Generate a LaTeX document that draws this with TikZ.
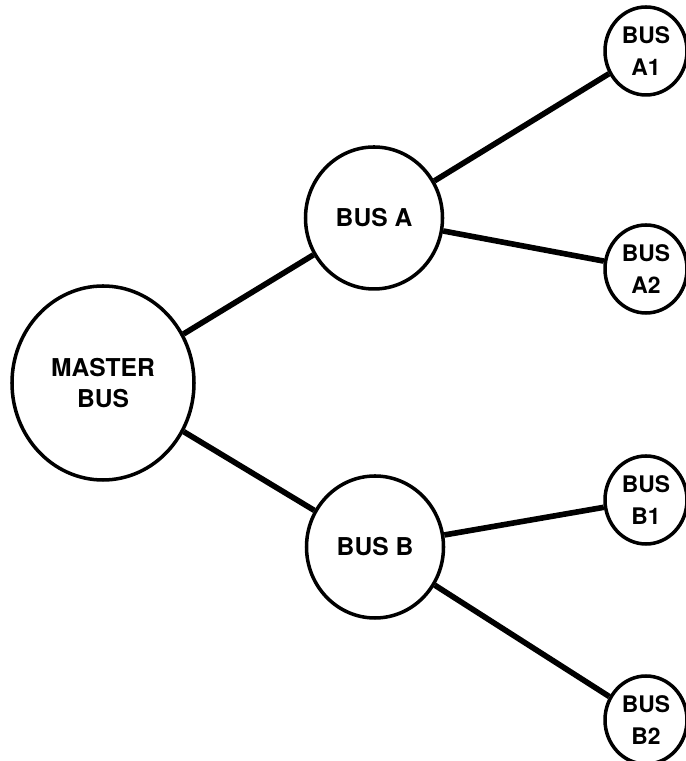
\documentclass[tikz,border=0pt]{standalone}
\usepackage{fontspec}
\setmainfont{TeX Gyre Heros}
\usepackage{tikz}
\usetikzlibrary{shapes.geometric}

\tikzset{
  bus/.style={draw=black, line width=2pt, ellipse, inner sep=0pt, align=center,
    font=\bfseries\fontsize{14}{17.5}\selectfont},
  bigbus/.style={bus, minimum width=3.64cm, minimum height=3.88cm},
  midbus/.style={bus, minimum width=2.74cm, minimum height=2.84cm},
  leafbus/.style={bus, minimum width=1.64cm, minimum height=1.76cm,
    font=\bfseries\fontsize{13}{18.5}\selectfont},
  link/.style={line width=3.2pt}
}

\begin{document}
\begin{tikzpicture}
         \useasboundingbox (0,0) rectangle (13.7,15.22);
         \node[bigbus] (master) at (2.06,7.56) {MASTER\\BUS};
         \node[midbus] (busA) at (7.48,10.86) {BUS A};
         \node[midbus] (busB) at (7.50,4.28) {BUS B};
         \foreach \name/\ypos in {A1/14.2, A2/9.84, B1/5.22, B2/0.82} {
            \node[leafbus] (bus\name) at (12.92,\ypos) {BUS\\\name};
         }
         \draw[link] (master) -- (busA);
         \draw[link] (master) -- (busB);
         \draw[link] (busA) -- (busA1);
         \draw[link] (busA) -- (busA2);
         \draw[link] (busB) -- (busB1);
         \draw[link] (busB) -- (busB2);
      \end{tikzpicture}
\end{document}
